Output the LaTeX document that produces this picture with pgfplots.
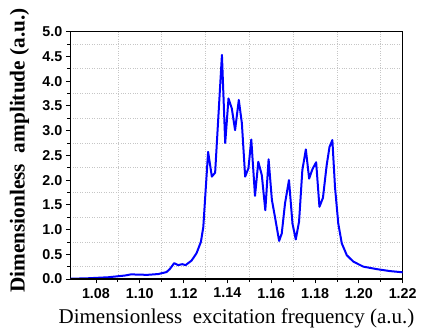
\documentclass[border=0pt]{standalone}
\usepackage{fontspec}
\setmainfont{Liberation Serif}
\newfontfamily\arial{Liberation Sans}
\usepackage{pgfplots}
\pgfplotsset{compat=1.18}
\definecolor{curveblue}{RGB}{0,0,255}
\begin{document}
\begin{tikzpicture}
\useasboundingbox (-70.3pt,-52pt) rectangle (352.7pt,279pt);
\begin{axis}[
  scale only axis,
  width=332.4pt, height=247.3pt,
  xmin=1.0683, xmax=1.22, ymin=0, ymax=5,
  xtick={1.08,1.10,...,1.221},
  ytick={0,0.5,...,5.01},
  minor tick num=1,
  tick align=outside,
  tick pos=left,
  major tick length=4.5pt,
  minor tick length=3pt,
  every tick/.style={black, line width=0.8pt},
  xminorgrids=true, yminorgrids=true,
  xmajorgrids=false, ymajorgrids=false,
  minor grid style={gray!45, dotted, line width=0.6pt},
  axis line style={black, line width=0.8pt},
  /pgf/number format/assume math mode=true,
  xticklabel style={/pgf/number format/.cd, fixed, fixed zerofill, precision=2},
  yticklabel style={/pgf/number format/.cd, fixed, fixed zerofill, precision=1},
  tick label style={font=\arial\bfseries\fontsize{14.3}{14.3}\selectfont},
  xticklabel shift=1pt,
  yticklabel shift=0pt,
  xlabel={Dimensionless\ \ excitation frequency (a.u.)},
  ylabel={\bfseries Dimensionless\ \ amplitude (a.u.)},
  label style={font=\fontsize{21}{21}\selectfont},
  xlabel style={at={(axis description cs:0.5,-0.158)}, anchor=center},
  ylabel style={at={(axis description cs:-0.153,0.52)}, anchor=center, font=\fontsize{21.3}{21.3}\selectfont},
]
\addplot[curveblue, line width=2pt, line join=round] coordinates {
(1.0683,0.005) (1.0765,0.015) (1.0856,0.035) (1.0932,0.07) (1.0962,0.095)
(1.0993,0.087) (1.1038,0.085) (1.1084,0.10) (1.1122,0.14) (1.1137,0.20)
(1.1157,0.32) (1.1175,0.28) (1.1194,0.30) (1.1209,0.28) (1.1236,0.37)
(1.1259,0.52) (1.1279,0.75) (1.1290,1.05) (1.1300,1.75) (1.1312,2.57)
(1.1329,2.07) (1.1344,2.15) (1.1375,4.53) (1.1390,2.75) (1.1405,3.65)
(1.1420,3.45) (1.1435,3.01) (1.1452,3.62) (1.1466,3.15) (1.1481,2.07)
(1.1496,2.24) (1.1509,2.82) (1.1526,1.68) (1.1541,2.37) (1.1557,2.10)
(1.1573,1.39) (1.1588,2.42) (1.1603,1.60) (1.1618,1.23) (1.1636,0.77)
(1.1648,0.92) (1.1663,1.53) (1.1681,2.0) (1.1697,1.12) (1.1712,0.80)
(1.1727,1.16) (1.1742,2.20) (1.1758,2.62) (1.1773,2.03) (1.1788,2.22)
(1.1805,2.36) (1.1820,1.46) (1.1836,1.64) (1.1853,2.30) (1.1866,2.67)
(1.1879,2.81) (1.1891,1.86) (1.1906,1.12) (1.1922,0.72) (1.1945,0.48)
(1.1975,0.35) (1.2020,0.25) (1.2081,0.20) (1.2142,0.16) (1.2200,0.135)
};
\draw[black, line width=1.6pt] (rel axis cs:0,1) -- (rel axis cs:0,0) -- (rel axis cs:1,0);
\end{axis}
\end{tikzpicture}
\end{document}
